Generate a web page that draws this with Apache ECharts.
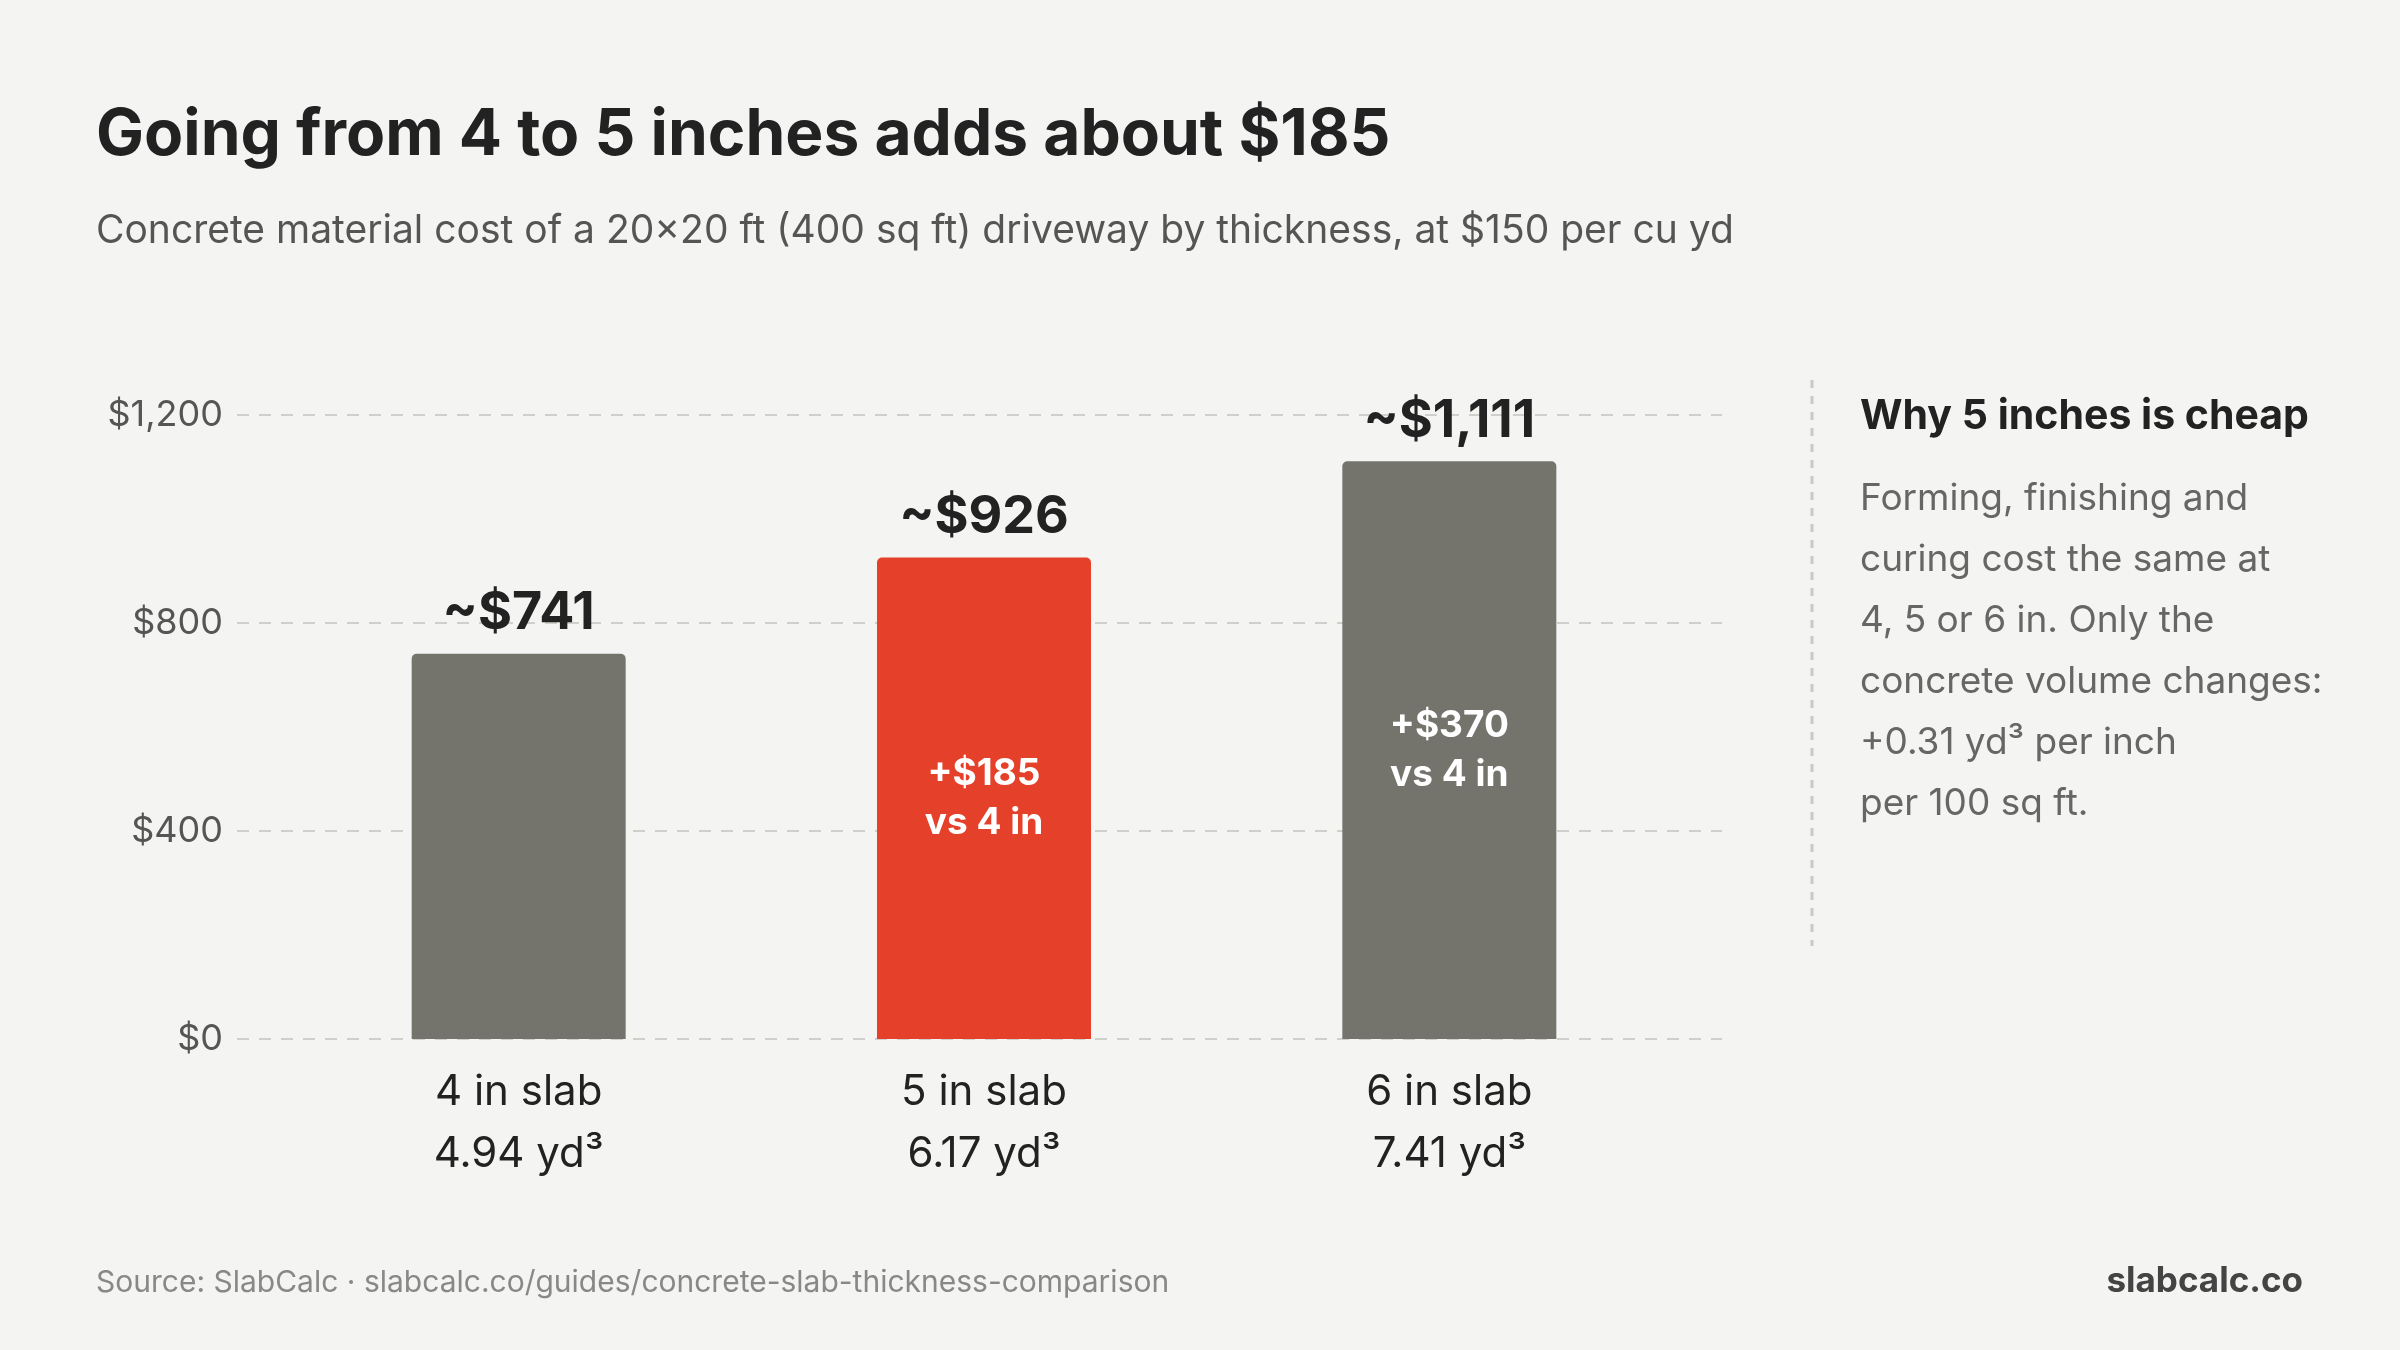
<!DOCTYPE html>
<html>
<head>
<meta charset="utf-8">
<script src="https://cdn.jsdelivr.net/npm/echarts@6/dist/echarts.min.js"></script>
<style>
  html, body { margin: 0; padding: 0; background: #f4f4f2; }
  #chart { width: 2400px; height: 1350px; }
</style>
</head>
<body>
<div id="chart"></div>
<script>
var categories = ['4 in slab', '5 in slab', '6 in slab'];
var volumes = ['4.94 yd³', '6.17 yd³', '7.41 yd³'];
var costs = [741, 926, 1111];
var topLabels = ['~$741', '~$926', '~$1,111'];
var insideLabels = ['', '+$185\nvs 4 in', '+$370\nvs 4 in'];
var barColors = ['#74746c', '#e5412a', '#74746c'];
var noteLines = [
    'Forming, finishing and',
    'curing cost the same at',
    '4, 5 or 6 in. Only the',
    'concrete volume changes:',
    '+0.31 yd³ per inch',
    'per 100 sq ft.'
];

var font = 'Inter, "Noto Sans", sans-serif';
var myChart = echarts.init(document.getElementById('chart'));

var graphics = [
    { type: 'text', left: 96, top: 104, style: { text: 'Going from 4 to 5 inches adds about $185', font: 'bold 64px ' + font, fill: '#222' } },
    { type: 'text', left: 96, top: 212, style: { text: 'Concrete material cost of a 20×20 ft (400 sq ft) driveway by thickness, at $150 per cu yd', font: '39px ' + font, fill: '#555' } },
    { type: 'line', shape: { x1: 1812, y1: 380, x2: 1812, y2: 946 }, style: { stroke: '#c8c8c4', lineWidth: 3, lineDash: [8, 8] } },
    { type: 'text', left: 1860, top: 396, style: { text: 'Why 5 inches is cheap', font: 'bold 41px ' + font, fill: '#222' } },
    { type: 'text', left: 96, top: 1268, style: { text: 'Source: SlabCalc · slabcalc.co/guides/concrete-slab-thickness-comparison', font: '30px ' + font, fill: '#888' } },
    { type: 'text', right: 97, top: 1264, style: { text: 'slabcalc.co', font: 'bold 35px ' + font, fill: '#444' } }
];
for (var i = 0; i < noteLines.length; i++) {
    graphics.push({ type: 'text', left: 1860, top: 480 + i * 61, style: { text: noteLines[i], font: '37px ' + font, fill: '#666' } });
}

var option = {
    backgroundColor: '#f4f4f2',
    animation: false,
    graphic: graphics,
    grid: [
        { left: 237, right: 678, top: 415, height: 624 },
        { left: 286, right: 718, top: 415, height: 624 }
    ],
    xAxis: [
        { gridIndex: 0, type: 'category', data: categories, show: false },
        {
            gridIndex: 1, type: 'category', data: categories,
            axisLine: { show: false }, axisTick: { show: false },
            axisLabel: {
                margin: 22,
                formatter: function (v, idx) { return '{a|' + v + '}\n{a|' + volumes[idx] + '}'; },
                rich: { a: { fontSize: 42, fontFamily: font, color: '#222', lineHeight: 62 } }
            }
        }
    ],
    yAxis: [
        {
            gridIndex: 0, type: 'value', min: 0, max: 1200, interval: 400,
            axisLine: { show: false }, axisTick: { show: false },
            axisLabel: { margin: 14, fontSize: 36, fontFamily: font, color: '#555', formatter: function (v) { return '$' + v.toLocaleString('en-US'); } },
            splitLine: { lineStyle: { color: '#cfcfcb', width: 2, type: [12, 10] } }
        },
        { gridIndex: 1, type: 'value', min: 0, max: 1200, interval: 400, show: false, splitLine: { show: false } }
    ],
    series: [
        {
            type: 'bar', xAxisIndex: 1, yAxisIndex: 1, barWidth: 214,
            data: costs.map(function (v, i) {
                return { value: v, itemStyle: { color: barColors[i], borderRadius: [5, 5, 0, 0] } };
            }),
            label: {
                show: true, position: 'top', distance: 14,
                formatter: function (p) { return topLabels[p.dataIndex]; },
                fontSize: 52, fontWeight: 'bold', fontFamily: font, color: '#222'
            }
        },
        {
            type: 'bar', xAxisIndex: 1, yAxisIndex: 1, barWidth: 214, barGap: '-100%',
            itemStyle: { color: 'transparent' }, silent: true,
            data: costs,
            label: {
                show: true, position: 'inside',
                formatter: function (p) { return insideLabels[p.dataIndex]; },
                fontSize: 37, fontWeight: 'bold', fontFamily: font, color: '#fff', lineHeight: 49
            }
        }
    ]
};
myChart.setOption(option);
</script>
</body>
</html>
